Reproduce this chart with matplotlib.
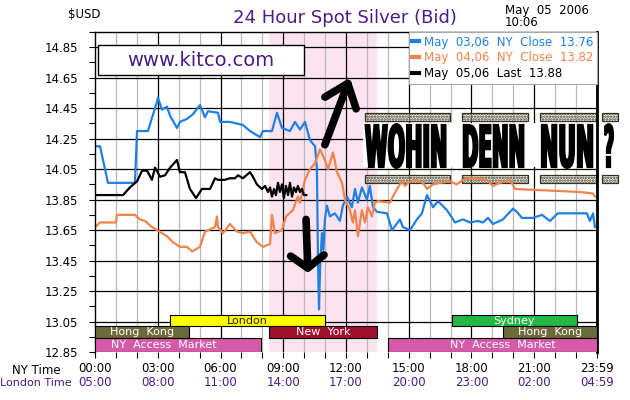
import numpy as np
import matplotlib
matplotlib.use("Agg")
import matplotlib.pyplot as plt
from matplotlib.patches import Rectangle
from matplotlib.patheffects import AbstractPathEffect
from matplotlib.transforms import Affine2D

# ---------------- data ----------------
blue_t = [0.00, 0.24, 0.62, 1.91, 2.01, 2.53, 2.96, 3.01, 3.20, 3.44, 3.59, 3.92, 4.06, 4.40, 4.68,
          5.02, 5.26, 5.40, 5.88, 5.98, 6.45, 7.07, 7.41, 7.89, 8.03, 8.46, 8.70, 8.94, 9.32, 9.56,
          9.80, 10.04, 10.28, 10.52, 10.61, 10.66, 10.71, 10.76, 10.85, 10.92, 10.99, 11.09, 11.23,
          11.47, 11.71, 11.85, 12.05, 12.28, 12.43, 12.57, 12.76, 13.00, 13.14, 13.29, 13.48, 13.96,
          14.20, 14.58, 14.72, 15.06, 15.39, 15.63, 15.87, 16.16, 16.40, 16.83, 17.21, 17.59, 17.93,
          18.31, 18.55, 18.79, 19.02, 19.50, 19.98, 20.17, 20.41, 20.94, 21.37, 21.75, 22.13, 23.52,
          23.66, 23.81, 23.90]
blue_v = [14.20, 14.20, 13.96, 13.96, 14.30, 14.30, 14.49, 14.52, 14.44, 14.46, 14.40, 14.32, 14.36,
          14.38, 14.41, 14.47, 14.39, 14.43, 14.42, 14.36, 14.36, 14.34, 14.30, 14.26, 14.30, 14.30,
          14.42, 14.32, 14.30, 14.36, 14.31, 14.36, 14.24, 14.20, 14.05, 13.46, 13.13, 13.40, 13.63,
          13.52, 13.72, 13.81, 13.74, 13.76, 13.71, 13.81, 13.87, 13.80, 13.92, 13.83, 13.93, 13.85,
          13.94, 13.80, 13.77, 13.76, 13.65, 13.72, 13.67, 13.65, 13.72, 13.76, 13.88, 13.80, 13.84,
          13.78, 13.70, 13.72, 13.70, 13.71, 13.70, 13.73, 13.69, 13.72, 13.79, 13.77, 13.73, 13.73,
          13.75, 13.71, 13.76, 13.76, 13.71, 13.76, 13.67]

orange_t = [0.00, 0.24, 1.00, 1.05, 1.91, 2.15, 2.39, 2.72, 2.96, 3.44, 3.73, 4.06, 4.40, 4.64, 5.02,
            5.26, 5.74, 5.83, 5.88, 6.12, 6.45, 6.79, 7.07, 7.41, 7.74, 8.03, 8.37, 8.46, 8.60, 8.94,
            9.13, 9.46, 9.70, 9.80, 10.04, 10.28, 10.52, 10.76, 10.99, 11.14, 11.38, 11.57, 11.81,
            11.95, 12.19, 12.33, 12.43, 12.57, 12.76, 12.91, 13.05, 13.24, 13.38, 13.53, 14.10, 14.24,
            14.44, 14.67, 14.82, 14.96, 15.30, 15.68, 15.87, 16.16, 16.49, 16.97, 17.30, 17.59, 18.07,
            18.74, 19.02, 19.36, 19.84, 20.08, 23.18, 23.81, 23.90]
orange_v = [13.67, 13.70, 13.70, 13.75, 13.75, 13.72, 13.71, 13.67, 13.65, 13.61, 13.57, 13.54, 13.54,
            13.51, 13.54, 13.64, 13.67, 13.74, 13.67, 13.63, 13.69, 13.64, 13.63, 13.64, 13.57, 13.54,
            13.56, 13.75, 13.63, 13.65, 13.74, 13.78, 13.87, 13.83, 13.98, 14.05, 14.09, 14.18, 14.11,
            14.05, 14.16, 14.03, 13.96, 13.85, 13.78, 13.70, 13.78, 13.61, 13.78, 13.70, 13.80, 13.74,
            13.83, 13.84, 13.83, 13.87, 13.92, 13.97, 13.94, 13.96, 13.98, 13.96, 13.92, 13.95, 13.96,
            13.97, 13.95, 13.98, 13.99, 13.98, 13.94, 13.96, 13.98, 13.92, 13.90, 13.89, 13.87]

black_t = [0.00, 1.34, 1.67, 2.01, 2.25, 2.49, 2.72, 2.87, 3.11, 3.35, 3.59, 3.92, 4.06, 4.30, 4.54,
           4.83, 5.11, 5.50, 5.74, 5.88, 6.21, 6.45, 6.69, 6.84, 7.07, 7.41, 7.55, 7.74, 7.98, 8.13,
           8.27, 8.37, 8.46, 8.56, 8.65, 8.75, 8.84, 8.94, 9.03, 9.13, 9.23, 9.32, 9.42, 9.51, 9.61,
           9.70, 9.80, 9.89, 9.99, 10.10]
black_v = [13.88, 13.88, 13.93, 13.97, 14.04, 14.04, 13.98, 14.06, 14.00, 14.01, 14.06, 14.11, 14.03,
           14.03, 13.92, 13.86, 13.92, 13.92, 13.99, 13.98, 13.98, 13.99, 13.99, 14.01, 13.99, 14.03,
           14.00, 13.95, 13.92, 13.94, 13.90, 13.93, 13.87, 13.92, 13.88, 13.96, 13.90, 13.95, 13.86,
           13.94, 13.88, 13.96, 13.87, 13.93, 13.90, 13.94, 13.90, 13.92, 13.88, 13.88]

series_labels = ["May  03,06  NY  Close  13.76",
                 "May  04,06  NY  Close  13.82",
                 "May  05,06  Last  13.88"]

label_hours = [0, 3, 6, 9, 12, 15, 18, 21, 24]
ny_labels = ["00:00", "03:00", "06:00", "09:00", "12:00", "15:00", "18:00", "21:00", "23:59"]
london_labels = ["05:00", "08:00", "11:00", "14:00", "17:00", "20:00", "23:00", "02:00", "04:59"]
y_ticks = [12.85, 13.05, 13.25, 13.45, 13.65, 13.85, 14.05, 14.25, 14.45, 14.65, 14.85]

session_names = ["London", "Sydney", "Hong  Kong", "New  York", "Hong  Kong",
                 "NY  Access  Market", "NY  Access  Market"]
session_start = [3.60, 17.05, 0.00, 8.33, 19.50, 0.00, 14.00]
session_end = [11.00, 23.05, 4.50, 13.50, 24.00, 7.95, 24.00]
session_row = [0, 0, 1, 1, 1, 2, 2]

comex_start, comex_end = 8.33, 13.5

banner_words = ["WOHIN", "DENN", "NUN", "?"]

# ---------------- style ----------------
BLUE = "#1f80e2"
ORANGE = "#f0844c"
PURPLE = "#4a1d86"
PINK = "#fde3ef"
session_colors = ["#ffff00", "#22b843", "#6b6b3a", "#a0102a", "#6b6b3a", "#d55aa8", "#d55aa8"]
session_text = ["#222222", "white", "white", "white", "white", "white", "white"]
session_dx = [0, 0, 0, 0, 0, -0.7, 0.5]
row_center = [13.054, 12.979, 12.895]
row_height = [0.072, 0.078, 0.090]

W, H = 630, 400
fig = plt.figure(figsize=(W / 100, H / 100), dpi=100)
ax = fig.add_axes([95 / W, 48 / H, 502 / W, 320 / H])
ax.set_xlim(0, 24)
ax.set_ylim(12.85, 14.95)
px = Affine2D().scale(1 / W, -1 / H).translate(0, 1) + fig.transFigure

ax.axvspan(comex_start, comex_end, color=PINK, lw=0, zorder=0.5)
for h in range(1, 24):
    ax.axvline(h, color="black" if h % 3 == 0 else "#b8b8b8", lw=0.9, zorder=1)
for v in y_ticks[1:]:
    ax.axhline(v, color="black", lw=0.9, zorder=1)

ax.plot(blue_t, blue_v, color=BLUE, lw=1.6, zorder=2, label=series_labels[0])
ax.plot(orange_t, orange_v, color=ORANGE, lw=1.6, zorder=2, label=series_labels[1])
ax.plot(black_t, black_v, color="black", lw=1.6, zorder=2.1, label=series_labels[2])

for name, s, e, r, c, tc, dx in zip(session_names, session_start, session_end, session_row,
                                    session_colors, session_text, session_dx):
    ax.barh(row_center[r], e - s, left=s, height=row_height[r], color=c,
            edgecolor="black", lw=0.8, zorder=3)
    ax.text((s + e) / 2 + dx, row_center[r], name, ha="center", va="center",
            fontsize=8, color=tc, zorder=4)

# axes styling
ax.set_xticks(label_hours, ny_labels)
ax.set_xticks(range(25), minor=True)
ax.tick_params(axis="x", which="both", direction="out", length=4.3, width=0.8, pad=3,
               labelsize=8.5)
ax.set_yticks(y_ticks, [f"{v:.2f}" for v in y_ticks])
ax.set_yticks(np.arange(12.95, 14.96, 0.2), minor=True)
ax.tick_params(axis="y", which="both", direction="out", length=4.3, width=0.8, pad=8,
               labelsize=8.5)
ax.spines["bottom"].set_visible(False)
ax.spines["left"].set_linewidth(1.0)
ax.spines["top"].set_linewidth(1.0)
ax.spines["right"].set_linewidth(2.0)

sec = ax.secondary_xaxis("bottom")
sec.set_xticks(label_hours, london_labels)
sec.tick_params(length=0, pad=17, labelsize=8.5, labelcolor=PURPLE)
sec.spines["bottom"].set_visible(False)

fig.text(36 / W, 1 - 370 / H, "NY Time", ha="center", va="center", fontsize=8.5)
fig.text(36 / W, 1 - 383 / H, "London Time", ha="center", va="center", fontsize=8,
         color=PURPLE)

# legend
leg = ax.legend(loc="upper right", bbox_to_anchor=(1, 1), borderaxespad=0, fontsize=8.5,
                handlelength=0.6, handletextpad=0.4, fancybox=False, edgecolor="#aaaaaa",
                framealpha=1, borderpad=0.3, labelspacing=0.25, labelcolor="linecolor")
leg.get_frame().set_linewidth(0.8)
leg.set_zorder(6)
for hdl in leg.legend_handles:
    hdl.set_linewidth(3)

# titles
fig.text(345 / W, 1 - 18 / H, "24 Hour Spot Silver (Bid)", ha="center", va="center",
         fontsize=13, color=PURPLE)
fig.text(84 / W, 1 - 14 / H, "$USD", ha="center", va="center", fontsize=8.5)
fig.text(505 / W, 1 - 4 / H, "May  05  2006\n10:06", ha="left", va="top", fontsize=8.5,
         linespacing=0.95)

# kitco box
ax.add_patch(Rectangle((98, 45), 206, 30, transform=px, facecolor="white",
                       edgecolor="black", lw=1.0, zorder=5, clip_on=False))
fig.text(201 / W, 1 - 60 / H, "www.kitco.com", ha="center", va="center", fontsize=14,
         color=PURPLE)

# arrows
ax.annotate("", xy=(12.19, 14.65), xytext=(10.99, 14.21),
            arrowprops=dict(arrowstyle="->,head_length=1.5,head_width=1.2", lw=5.5,
                            color="black", shrinkA=0, shrinkB=0), zorder=4)
ax.annotate("", xy=(10.18, 13.37), xytext=(10.09, 13.72),
            arrowprops=dict(arrowstyle="->,head_length=0.9,head_width=1.2", lw=5.5,
                            color="black", shrinkA=0, shrinkB=0), zorder=4)

# "WOHIN DENN NUN ?" banner
plt.rcParams["hatch.linewidth"] = 1.2
ax.add_patch(Rectangle((363, 123), 257, 44, transform=px, facecolor="white", lw=0,
                       zorder=1.8, clip_on=False))
for x0, x1 in [(365, 450), (462, 528), (540, 597), (602, 618)]:
    for y0 in (113, 175):
        ax.add_patch(Rectangle((x0, y0), x1 - x0, 8, transform=px,
                               facecolor=(0.96, 0.95, 0.88, 0.6), edgecolor="#333322",
                               hatch="......", lw=0.9, zorder=1.8, clip_on=False))


class Stretch(AbstractPathEffect):
    def __init__(self, sx, sy, lw):
        super().__init__()
        self.sx, self.sy, self.lw = sx, sy, lw

    def draw_path(self, renderer, gc, tpath, affine, rgbFace=None):
        gc0 = renderer.new_gc()
        gc0.copy_properties(gc)
        gc0.set_linewidth(self.lw)
        gc0.set_foreground(rgbFace)
        gc0.set_joinstyle("miter")
        renderer.draw_path(gc0, tpath, Affine2D().scale(self.sx, self.sy) + affine, rgbFace)
        gc0.restore()


renderer = fig.canvas.get_renderer()
fs = 15
cap_px = 0.729 * fs * 100 / 72
for word, (x0, x1) in zip(banner_words, [(365, 450), (462, 528), (540, 597), (604, 617)]):
    t = fig.text(x0 / W, 1 - 167 / H, word, ha="left", va="baseline", fontsize=fs,
                 fontweight="bold", family="DejaVu Sans", color="black", zorder=5)
    wpx = t.get_window_extent(renderer).width
    t.set_path_effects([Stretch((x1 - x0 - 3) / wpx, 42 / cap_px, 1.6)])

fig.savefig("out.png", dpi=100)
